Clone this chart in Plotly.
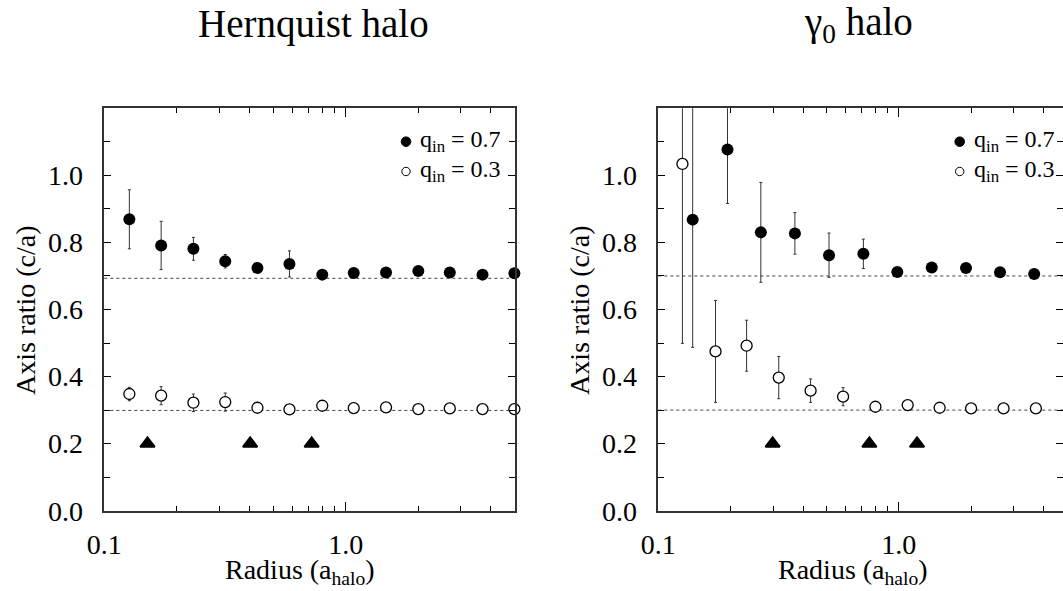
import plotly.graph_objects as go

W, H = 1063, 591

# ---------------- data ----------------
# Hernquist halo (left panel)
hern_r = [0.127, 0.172, 0.234, 0.317, 0.431, 0.585, 0.80, 1.08, 1.47, 2.0, 2.70, 3.69, 5.0]
hern_q07 = [0.869, 0.791, 0.781, 0.744, 0.724, 0.736, 0.704, 0.709, 0.710, 0.715, 0.710, 0.704, 0.708]
hern_q07_err = [0.088, 0.072, 0.034, 0.020, 0.010, 0.039, 0.006, 0.006, 0.006, 0.006, 0.006, 0.006, 0.006]
hern_q03 = [0.348, 0.343, 0.322, 0.324, 0.307, 0.302, 0.313, 0.306, 0.308, 0.303, 0.305, 0.303, 0.303]
hern_q03_err = [0.020, 0.027, 0.026, 0.027, 0.008, 0.005, 0.005, 0.005, 0.005, 0.005, 0.005, 0.005, 0.005]
hern_tri_r = [0.151, 0.402, 0.723]
hern_tri_y = [0.2, 0.2, 0.2]
hern_ref = [0.693, 0.299]

# gamma_0 halo (right panel)
g0_r07 = [0.139, 0.194, 0.267, 0.370, 0.513, 0.713, 0.987, 1.372, 1.905, 2.64, 3.66, 5.08]
g0_q07 = [0.868, 1.077, 0.830, 0.827, 0.762, 0.766, 0.712, 0.725, 0.724, 0.711, 0.706, 0.700]
g0_q07_err = [0.381, 0.161, 0.149, 0.062, 0.066, 0.044, 0.006, 0.006, 0.006, 0.006, 0.006, 0.006]
g0_r03 = [0.126, 0.173, 0.233, 0.317, 0.430, 0.587, 0.80, 1.09, 1.48, 2.0, 2.73, 3.72, 5.03]
g0_q03 = [1.034, 0.475, 0.492, 0.397, 0.358, 0.340, 0.310, 0.315, 0.307, 0.305, 0.305, 0.305, 0.303]
g0_q03_err = [0.535, 0.152, 0.076, 0.063, 0.035, 0.027, 0.006, 0.006, 0.006, 0.006, 0.006, 0.006, 0.006]
g0_tri_r = [0.299, 0.755, 1.192]
g0_tri_y = [0.2, 0.2, 0.2]
g0_ref = [0.70, 0.30]

y_major = [0.0, 0.2, 0.4, 0.6, 0.8, 1.0]
y_major_text = ["0.0", "0.2", "0.4", "0.6", "0.8", "1.0"]
y_minor = [0.1, 0.3, 0.5, 0.7, 0.9, 1.1]
x_major = [0.1, 1.0]
x_major_text = ["0.1", "1.0"]
x_minor = [0.2, 0.3, 0.4, 0.5, 0.6, 0.7, 0.8, 0.9, 2, 3, 4, 5]

FONT = "Liberation Serif"
ERRC = "#333333"
AXC = "#333333"

fig = go.Figure()

def add_panel(xa, ya, r07, q07, e07, r03, q03, e03, tr, ty):
    # error bars (clipped to the plotting area)
    for r, q, e in [(r07, q07, e07), (r03, q03, e03)]:
        fig.add_trace(go.Scatter(
            x=r, y=q, mode="markers", xaxis=xa, yaxis=ya, showlegend=False,
            marker=dict(size=1, color="rgba(0,0,0,0)"), cliponaxis=True,
            error_y=dict(type="data", array=e, visible=True, color=ERRC,
                         thickness=1, width=1.5)))
    fig.add_trace(go.Scatter(
        x=r07, y=q07, mode="markers", xaxis=xa, yaxis=ya, showlegend=False,
        cliponaxis=False, marker=dict(size=12, color="black", symbol="circle")))
    fig.add_trace(go.Scatter(
        x=r03, y=q03, mode="markers", xaxis=xa, yaxis=ya, showlegend=False,
        cliponaxis=False, marker=dict(size=11, color="white", symbol="circle",
                                      line=dict(color="black", width=1.3))))
    fig.add_trace(go.Scatter(
        x=tr, y=ty, mode="markers", xaxis=xa, yaxis=ya, showlegend=False,
        cliponaxis=False, marker=dict(size=12.5, color="black", symbol="triangle-up",
                                      line=dict(color="black", width=2))))

add_panel("x", "y", hern_r, hern_q07, hern_q07_err, hern_r, hern_q03, hern_q03_err,
          hern_tri_r, hern_tri_y)
add_panel("x2", "y2", g0_r07, g0_q07, g0_q07_err, g0_r03, g0_q03, g0_q03_err,
          g0_tri_r, g0_tri_y)

# dotted reference lines
shapes = []
for xr, yr, vals in [("x domain", "y", hern_ref), ("x2 domain", "y2", g0_ref)]:
    for v in vals:
        shapes.append(dict(type="line", xref=xr, yref=yr, x0=0, x1=1, y0=v, y1=v,
                           line=dict(color="#444444", width=1, dash="dot"), layer="below"))

ydom = [1 - 510.7 / H, 1 - 108.3 / H]
left_dom = [104.3 / W, 515.0 / W]
right_dom = [658.3 / W, 1.0]

def xax(dom, rmax, anchor):
    return dict(type="log", domain=dom, range=[-1, rmax], anchor=anchor,
                automargin=False,
                showgrid=False, zeroline=False, showline=True, linecolor=AXC,
                linewidth=1.5, mirror="ticks", ticks="inside", ticklen=9,
                tickwidth=1.2, tickcolor="black", tickmode="array",
                tickvals=x_major, ticktext=x_major_text, ticklabelstandoff=8,
                tickfont=dict(family=FONT, size=28, color="black"),
                minor=dict(ticks="inside", tickmode="array", tickvals=x_minor,
                           ticklen=5, tickwidth=1, tickcolor="black", showgrid=False))

def yax(anchor):
    return dict(domain=ydom, range=[0, 1.2], anchor=anchor, showgrid=False,
                automargin=False,
                zeroline=False, showline=True, linecolor=AXC, linewidth=1.5,
                mirror="ticks", ticks="inside", ticklen=7, tickwidth=1.2,
                tickcolor="black", tickmode="array", tickvals=y_major,
                ticktext=y_major_text, ticklabelstandoff=14,
                tickfont=dict(family=FONT, size=28, color="black"),
                minor=dict(ticks="inside", tickmode="array", tickvals=y_minor,
                           ticklen=6, tickwidth=1, tickcolor="black", showgrid=False))

annotations = []
def ann(text, px, py, size, xanchor="center", yanchor="middle", angle=0):
    annotations.append(dict(text=text, x=px / W, y=1 - py / H, xref="paper", yref="paper",
                            showarrow=False, xanchor=xanchor, yanchor=yanchor,
                            textangle=angle,
                            font=dict(family=FONT, size=size, color="black")))

# panel titles
ann("Hernquist halo", 313, 24, 39)
ann("γ<sub>0</sub> halo", 858, 24, 39)
# axis titles
ann("Radius (a<sub>halo</sub>)", 300, 571, 28)
ann("Radius (a<sub>halo</sub>)", 852.6, 571, 28)
ann("Axis ratio (c/a)", 25, 310, 28, angle=-90)
ann("Axis ratio (c/a)", 579, 310, 28, angle=-90)
# legends
for mx, tx in [(406, 418), (959.7, 971.7)]:
    ann("q<sub>in</sub> = 0.7", tx, 141, 24, xanchor="left")
    ann("q<sub>in</sub> = 0.3", tx, 171, 24, xanchor="left")
    shapes.append(dict(type="circle", xref="paper", yref="paper",
                       xsizemode="pixel", ysizemode="pixel",
                       xanchor=mx / W, yanchor=1 - 141.7 / H,
                       x0=-4.8, x1=4.8, y0=-4.8, y1=4.8,
                       fillcolor="black", line=dict(color="black", width=1)))
    shapes.append(dict(type="circle", xref="paper", yref="paper",
                       xsizemode="pixel", ysizemode="pixel",
                       xanchor=mx / W, yanchor=1 - 171.5 / H,
                       x0=-4.2, x1=4.2, y0=-4.2, y1=4.2,
                       fillcolor="white", line=dict(color="black", width=1)))

fig.update_layout(
    width=W, height=H, margin=dict(l=0, r=0, t=0, b=0, pad=0, autoexpand=False),
    paper_bgcolor="white", plot_bgcolor="white", showlegend=False,
    xaxis=xax(left_dom, 0.7016, "y"), yaxis=yax("x"),
    xaxis2=xax(right_dom, 0.6834, "y2"), yaxis2=yax("x2"),
    shapes=shapes, annotations=annotations,
    font=dict(family=FONT, color="black"),
)

fig.write_html("out.html")
